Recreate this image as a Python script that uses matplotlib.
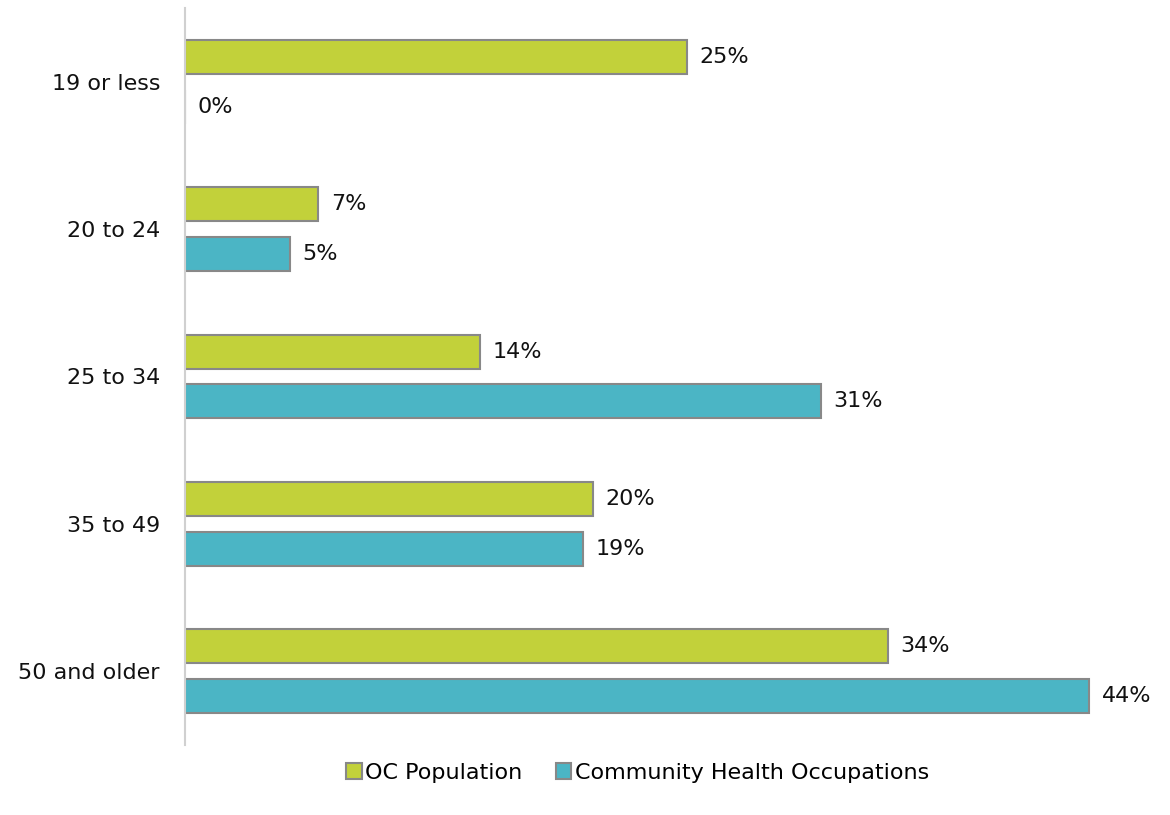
import matplotlib
matplotlib.use("Agg")
import matplotlib.pyplot as plt
import numpy as np

categories = ["19 or less", "20 to 24", "25 to 34", "35 to 49", "50 and older"]
oc_population = [24.5, 6.5, 14.4, 19.9, 34.3]
oc_labels = ["25%", "7%", "14%", "20%", "34%"]
community_health = [0.0, 5.1, 31.0, 19.4, 44.1]
ch_labels = ["0%", "5%", "31%", "19%", "44%"]
series_names = ["OC Population", "Community Health Occupations"]

plt.rcParams['font.family'] = ['DejaVu Sans']

fig = plt.figure(figsize=(11.7, 8.15), dpi=100)
ax = fig.add_axes([185/1170, 1 - 745/815, 980/1170, (745-8)/815])

y = np.arange(len(categories))
h = 0.23
off = 0.169
green = "#C2D13A"
blue = "#4BB5C5"
edge = "#888888"
fs = 16

b1 = ax.barh(y - off, oc_population, height=h, color=green, edgecolor=edge, linewidth=1.5, label=series_names[0])
b2 = ax.barh(y + off, community_health, height=h, color=blue, edgecolor=edge, linewidth=1.5, label=series_names[1])

for yi, v, lab in zip(y - off, oc_population, oc_labels):
    ax.annotate(lab, (v, yi), xytext=(9, 0), textcoords="offset points", va="center", ha="left", fontsize=fs, color="#111111")
for yi, v, lab in zip(y + off, community_health, ch_labels):
    ax.annotate(lab, (v, yi), xytext=(9, 0), textcoords="offset points", va="center", ha="left", fontsize=fs, color="#111111")

ax.set_xlim(0, 47.8)
ax.set_ylim(len(categories) - 0.5, -0.5)
ax.set_yticks(y)
ax.set_yticklabels(categories, fontsize=fs, color="#111111")
ax.tick_params(axis="y", length=0, pad=18)
ax.set_xticks([])
for s in ["top", "right", "bottom"]:
    ax.spines[s].set_visible(False)
ax.spines["left"].set_color("#d0d0d0")
ax.spines["left"].set_linewidth(1.5)

fig.legend(handles=[b1, b2], labels=series_names, loc="center", bbox_to_anchor=(0.545, 1 - 773/815),
           ncol=2, frameon=False, fontsize=fs, handlelength=0.7, handleheight=0.7, handletextpad=0.15,
           columnspacing=1.5)

fig.savefig("out.png", dpi=100)
